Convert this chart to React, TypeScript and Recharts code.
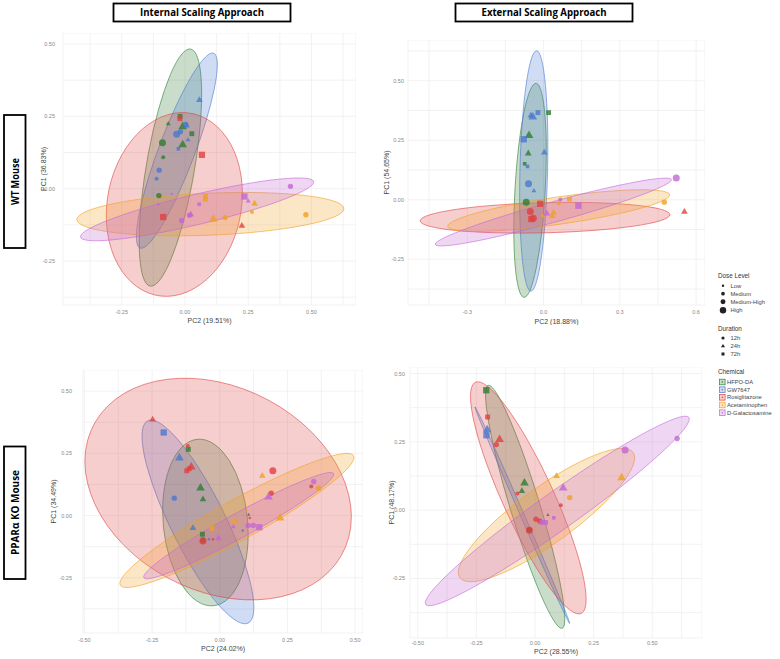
import React from "react";
import { ScatterChart, Scatter, XAxis, YAxis, CartesianGrid, ReferenceArea } from "recharts";

const chemicals = ["HFPO-DA", "GW7647", "Rosiglitazone", "Acetaminophen", "D-Galactosamine"];
const chemicalColors = ["#2e7d32", "#4a78d0", "#e04040", "#f0a020", "#c266d6"];
const durations = ["12h", "24h", "72h"];
const doseLevels = ["Low", "Medium", "Medium-High", "High"];
const doseRadius = [1.3, 2.0, 2.7, 3.5];

// points: [chemical, PC2, PC1, duration, dose]
const wtInternalPoints = [
  [1, 0.057, 0.307, 1, 2], [0, -0.019, 0.25, 2, 2], [2, -0.02, 0.242, 2, 2], [0, -0.066, 0.225, 1, 1],
  [0, -0.009, 0.216, 1, 3], [1, 0.006, 0.219, 1, 2], [1, 0.003, 0.222, 0, 2], [1, -0.033, 0.188, 0, 3],
  [1, -0.018, 0.197, 0, 2], [0, 0.027, 0.19, 2, 2], [0, -0.009, 0.153, 1, 3], [1, 0.012, 0.17, 1, 1],
  [1, -0.026, 0.138, 2, 1], [0, -0.089, 0.159, 0, 3], [2, 0.067, 0.117, 2, 3], [0, -0.086, 0.109, 0, 1],
  [1, -0.102, 0.064, 0, 2], [1, -0.112, 0.034, 0, 1], [4, 0.417, 0.008, 0, 2], [0, -0.103, -0.024, 0, 2],
  [4, -0.052, -0.018, 1, 0], [3, 0.081, -0.027, 2, 2], [3, 0.081, -0.037, 2, 2], [4, 0.235, -0.027, 2, 3],
  [4, 0.25, -0.042, 1, 1], [3, 0.275, -0.05, 1, 2], [4, 0.056, -0.054, 2, 1], [4, -0.106, -0.054, 0, 0],
  [3, 0.265, -0.081, 0, 1], [3, 0.478, -0.09, 0, 2], [2, -0.086, -0.098, 2, 3], [4, 0.023, -0.088, 1, 2],
  [4, 0.018, -0.092, 0, 2], [3, 0.112, -0.104, 1, 3], [3, 0.159, -0.1, 0, 2], [4, -0.013, -0.11, 0, 2],
  [2, 0.225, -0.127, 1, 2],
];
const wtExternalPoints = [
  [0, 0.02, 0.366, 2, 2], [1, -0.022, 0.366, 2, 2], [1, -0.042, 0.349, 1, 3], [1, -0.05, 0.355, 1, 2],
  [0, -0.057, 0.272, 1, 3], [1, -0.078, 0.254, 2, 3], [1, 0.003, 0.2, 1, 2], [0, -0.06, 0.196, 1, 2],
  [0, -0.074, 0.151, 2, 1], [1, -0.063, 0.14, 2, 1], [1, -0.059, 0.067, 0, 3], [1, -0.038, 0.039, 1, 1],
  [4, 0.522, 0.091, 0, 3], [3, 0.475, -0.01, 0, 2], [2, 0.554, -0.049, 1, 2], [0, -0.068, -0.01, 0, 3],
  [2, -0.013, -0.017, 2, 3], [3, 0.102, 0.003, 2, 2], [4, 0.066, 0.001, 0, 1], [3, 0.06, -0.014, 2, 1],
  [4, 0.137, -0.025, 2, 3], [2, -0.052, -0.049, 0, 3], [2, -0.048, -0.081, 2, 3], [2, -0.04, -0.078, 0, 3],
  [4, 0.013, -0.056, 1, 2], [3, 0.04, -0.052, 1, 2], [3, 0.035, -0.067, 1, 2], [3, -0.003, -0.067, 0, 1],
];
const koInternalPoints = [
  [2, -0.248, 0.387, 1, 2], [1, -0.207, 0.334, 2, 3], [2, -0.118, 0.28, 0, 1], [0, -0.116, 0.266, 2, 2],
  [1, -0.149, 0.233, 1, 3], [2, -0.105, 0.197, 1, 3], [2, -0.122, 0.18, 2, 2], [2, -0.113, 0.188, 2, 2],
  [0, -0.071, 0.113, 1, 3], [0, -0.062, 0.067, 1, 2], [1, -0.168, 0.07, 0, 2], [3, 0.157, 0.161, 1, 2],
  [2, 0.196, 0.18, 0, 3], [2, 0.19, 0.09, 0, 2], [4, 0.18, 0.076, 1, 3], [4, 0.347, 0.137, 0, 2],
  [2, 0.338, 0.117, 0, 1], [3, 0.365, 0.11, 0, 2], [3, 0.223, -0.008, 1, 3], [3, 0.099, 0.02, 0, 0],
  [0, 0.107, 0.004, 1, 0], [2, 0.111, -0.01, 0, 0], [3, 0.056, -0.024, 0, 2], [4, 0.105, -0.04, 0, 2],
  [4, 0.124, -0.04, 0, 2], [4, 0.146, -0.047, 2, 3], [4, 0.05, -0.044, 1, 1], [3, -0.029, -0.051, 2, 2],
  [1, -0.099, -0.049, 1, 2], [0, -0.064, -0.075, 2, 2], [4, -0.005, -0.09, 1, 2], [0, -0.062, -0.098, 0, 2],
  [2, -0.062, -0.102, 0, 3], [1, -0.04, -0.095, 0, 0], [2, -0.025, -0.095, 0, 0], [1, 0.085, -0.06, 0, 0],
];
const koExternalPoints = [
  [0, -0.208, 0.439, 2, 3], [2, -0.202, 0.341, 2, 2], [1, -0.204, 0.296, 1, 3], [1, -0.207, 0.274, 2, 3],
  [2, -0.151, 0.26, 1, 3], [2, -0.165, 0.24, 0, 2], [4, 0.606, 0.262, 0, 2], [4, 0.384, 0.22, 0, 3],
  [3, 0.369, 0.12, 1, 3], [3, 0.092, 0.126, 1, 2], [4, 0.12, 0.083, 1, 3], [3, 0.148, 0.046, 0, 2],
  [0, -0.045, 0.101, 1, 3], [0, -0.056, 0.071, 1, 2], [2, -0.075, 0.061, 0, 1], [2, 0.11, 0.018, 0, 1],
  [0, 0.055, -0.017, 1, 0], [2, 0.004, -0.033, 0, 2], [2, 0.02, -0.04, 0, 2], [4, 0.03, -0.045, 2, 2],
  [4, 0.045, -0.045, 2, 2], [4, 0.08, -0.028, 2, 1], [0, -0.024, -0.072, 0, 2], [2, -0.024, -0.074, 0, 3],
];

// ellipses: [chemical, PC2 min, PC2 max, PC1 min, PC1 max, tilt]
const wtInternalEllipses = [
  [0, -0.181, 0.066, -0.337, 0.483, 0.62],
  [1, -0.192, 0.128, -0.206, 0.469, 0.88],
  [2, -0.311, 0.227, -0.372, 0.263, 0.12],
  [3, -0.427, 0.628, -0.163, -0.013, 0.25],
  [4, -0.413, 0.509, -0.18, 0.037, 0.87],
];
const wtExternalEllipses = [
  [0, -0.117, 0.011, -0.41, 0.489, 0.36],
  [1, -0.094, 0.017, -0.384, 0.626, 0.2],
  [2, -0.485, 0.497, -0.14, -0.011, 0.2],
  [3, -0.377, 0.496, -0.133, 0.042, 0.75],
  [4, -0.426, 0.503, -0.194, 0.091, 0.95],
];
const koInternalEllipses = [
  [0, -0.211, 0.105, -0.363, 0.307, -0.14],
  [1, -0.287, 0.126, -0.435, 0.384, -0.84],
  [2, -0.498, 0.486, -0.339, 0.552, -0.25],
  [3, -0.369, 0.496, -0.289, 0.25, 0.94],
  [4, -0.281, 0.421, -0.254, 0.173, 0.965],
];
const koExternalEllipses = [
  [0, -0.211, 0.127, -0.433, 0.457, -0.92],
  [1, -0.256, 0.148, -0.415, 0.378, -0.999],
  [2, -0.275, 0.218, -0.38, 0.47, -0.874],
  [3, -0.327, 0.425, -0.262, 0.226, 0.86],
  [4, -0.468, 0.658, -0.35, 0.344, 0.97],
];

const quarterTicks = [-0.5, -0.25, 0, 0.25, 0.5];
const quarterMinor = [-0.375, -0.125, 0.125, 0.375, 0.625];
const tenthTicks = [-0.3, 0, 0.3, 0.6];
const tenthMinor = [-0.45, -0.15, 0.15, 0.45];

const font = "'Liberation Sans', Arial, sans-serif";

function Marker({ cx, cy, payload, color }: any) {
  if (cx == null || cy == null) return null;
  const r = doseRadius[payload.dose];
  const common = { fill: color, fillOpacity: 0.8 };
  if (payload.dur === 0) return <circle cx={cx} cy={cy} r={r} {...common} />;
  if (payload.dur === 1) {
    const h = r * 1.3;
    return (
      <polygon
        points={`${cx},${cy - h} ${cx + h * 0.95},${cy + h * 0.65} ${cx - h * 0.95},${cy + h * 0.65}`}
        {...common}
      />
    );
  }
  const s = r * 0.9;
  return <rect x={cx - s} y={cy - s} width={2 * s} height={2 * s} {...common} />;
}

function ellipseShape(color: string, tilt: number) {
  return (p: any) => {
    const { x, y, width, height } = p;
    const a = width / 2;
    const b = height / 2;
    const s = Math.sqrt(Math.max(1 - tilt * tilt, 0.0004));
    return (
      <circle
        r={1}
        transform={`matrix(${a} ${-b * tilt} 0 ${-b * s} ${x + a} ${y + b})`}
        fill={color}
        fillOpacity={0.26}
        stroke={color}
        strokeOpacity={0.75}
        strokeWidth={0.8}
        vectorEffect="non-scaling-stroke"
      />
    );
  };
}

function Panel({ pos, points, ellipses, xDomain, yDomain, xMajor, xMinor, yMajor, yMinor, xDigits, xTitle, yTitle }: any) {
  const isMajor = (list: number[]) => (v: number) => list.some((m) => Math.abs(m - v) < 1e-9);
  const xt = [...xMajor, ...xMinor].filter((v) => v >= xDomain[0] && v <= xDomain[1]).sort((a, b) => a - b);
  const yt = [...yMajor, ...yMinor].filter((v) => v >= yDomain[0] && v <= yDomain[1]).sort((a, b) => a - b);
  const tickStyle = { fontSize: 5.5, fill: "#888", fontFamily: font };
  return (
    <div style={{ position: "absolute", left: pos.left, top: pos.top }}>
      <ScatterChart width={pos.yw + pos.pw} height={pos.ph + pos.xh} margin={{ top: 0, right: 0, bottom: 0, left: 0 }}>
        <CartesianGrid stroke="#ececec" strokeWidth={0.7} />
        <XAxis
          type="number"
          dataKey="x"
          domain={xDomain}
          allowDataOverflow
          ticks={xt}
          interval={0}
          axisLine={false}
          tickLine={false}
          tickSize={pos.xTick}
          height={pos.xh}
          tick={tickStyle}
          tickFormatter={(v: number) => (isMajor(xMajor)(v) ? v.toFixed(xDigits) : "")}
          label={{ value: xTitle, position: "insideBottom", offset: pos.xOff, fontSize: 7, fill: "#444", fontFamily: font }}
        />
        <YAxis
          type="number"
          dataKey="y"
          domain={yDomain}
          allowDataOverflow
          ticks={yt}
          interval={0}
          axisLine={false}
          tickLine={false}
          tickSize={pos.yTick}
          width={pos.yw}
          tick={tickStyle}
          tickFormatter={(v: number) => (isMajor(yMajor)(v) ? v.toFixed(2) : "")}
          label={{
            value: yTitle,
            angle: -90,
            position: "insideLeft",
            offset: pos.yOff,
            style: { textAnchor: "middle" },
            fontSize: 7,
            fill: "#444",
            fontFamily: font,
          }}
        />
        {ellipses.map((e: number[], i: number) => (
          <ReferenceArea
            key={`e${i}`}
            x1={e[1]}
            x2={e[2]}
            y1={e[3]}
            y2={e[4]}
            ifOverflow="visible"
            shape={ellipseShape(chemicalColors[e[0]], e[5])}
          />
        ))}
        {chemicals.map((c, ci) => (
          <Scatter
            key={c}
            name={c}
            data={points
              .filter((p: number[]) => p[0] === ci)
              .map((p: number[]) => ({ x: p[1], y: p[2], dur: p[3], dose: p[4] }))}
            isAnimationActive={false}
            shape={(props: any) => <Marker {...props} color={chemicalColors[ci]} />}
          />
        ))}
      </ScatterChart>
    </div>
  );
}

function Overlay() {
  const legendX = 718;
  const doseY = [285.7, 293.7, 301.7, 310.3];
  const durY = [338, 346, 354];
  const chemY = [382, 389.7, 397.3, 405, 412.7];
  const tri = (cx: number, cy: number, h: number) =>
    `${cx},${cy - h} ${cx + h * 0.95},${cy + h * 0.65} ${cx - h * 0.95},${cy + h * 0.65}`;
  return (
    <svg width={780} height={659} style={{ position: "absolute", left: 0, top: 0 }}>
      <rect x={113.5} y={3.5} width={177} height={18} fill="#fff" stroke="#000" strokeWidth={1.8} />
      <text x={202} y={16.3} textAnchor="middle" fontFamily="'Open Sans', sans-serif" fontWeight={700} fontSize={10.5} textLength={124} lengthAdjust="spacingAndGlyphs">
        Internal Scaling Approach
      </text>
      <rect x={455.5} y={3.5} width={177} height={18} fill="#fff" stroke="#000" strokeWidth={1.8} />
      <text x={544} y={16.3} textAnchor="middle" fontFamily="'Open Sans', sans-serif" fontWeight={700} fontSize={10.5} textLength={125} lengthAdjust="spacingAndGlyphs">
        External Scaling Approach
      </text>
      <rect x={4} y={115} width={21.5} height={133} fill="#fff" stroke="#000" strokeWidth={1.8} />
      <text x={18.5} y={181.5} textAnchor="middle" transform="rotate(-90 18.5 181.5)" fontFamily="'Open Sans', sans-serif" fontWeight={700} fontSize={10.5} textLength={47} lengthAdjust="spacingAndGlyphs">
        WT  Mouse
      </text>
      <rect x={4} y={446.5} width={21.5} height={132.5} fill="#fff" stroke="#000" strokeWidth={1.8} />
      <text x={18.5} y={512.5} textAnchor="middle" transform="rotate(-90 18.5 512.5)" fontFamily="'Open Sans', sans-serif" fontWeight={700} fontSize={10.5} textLength={85} lengthAdjust="spacingAndGlyphs">
        PPARα KO Mouse
      </text>

      <g fontFamily={font}>
        <text x={legendX} y={278.3} fontSize={6.3} fill="#333">Dose Level</text>
        {doseLevels.map((d, i) => (
          <g key={d}>
            <circle cx={723} cy={doseY[i]} r={doseRadius[i] * 0.92} fill="#222" />
            <text x={730.5} y={doseY[i] + 2} fontSize={5.8} fill="#444">{d}</text>
          </g>
        ))}
        <text x={legendX} y={330.5} fontSize={6.3} fill="#333">Duration</text>
        {durations.map((d, i) => (
          <g key={d}>
            {i === 0 && <circle cx={723} cy={durY[i]} r={1.6} fill="#222" />}
            {i === 1 && <polygon points={tri(723, durY[i], 2.1)} fill="#222" />}
            {i === 2 && <rect x={721.5} y={durY[i] - 1.5} width={3} height={3} fill="#222" />}
            <text x={730.5} y={durY[i] + 2} fontSize={5.8} fill="#444">{d}</text>
          </g>
        ))}
        <text x={legendX} y={374} fontSize={6.3} fill="#333">Chemical</text>
        {chemicals.map((c, i) => (
          <g key={c}>
            <rect x={719.5} y={chemY[i] - 2.8} width={5.6} height={5.6} fill={chemicalColors[i]} fillOpacity={0.25} stroke={chemicalColors[i]} strokeWidth={0.7} />
            <circle cx={722.3} cy={chemY[i]} r={0.8} fill={chemicalColors[i]} />
            <text x={727} y={chemY[i] + 2} fontSize={5.8} fill="#444">{c}</text>
          </g>
        ))}
      </g>
    </svg>
  );
}

export default function App() {
  return (
    <div style={{ position: "absolute", left: 0, top: 0, width: 780, height: 659, background: "#fff", overflow: "hidden" }}>
      <Overlay />
      <Panel
        pos={{ left: 0, top: 33, yw: 63, pw: 293, ph: 272, xh: 20, xTick: 3, yTick: 6, xOff: 2.5, yOff: 44 }}
        points={wtInternalPoints}
        ellipses={wtInternalEllipses}
        xDomain={[-0.482, 0.676]}
        yDomain={[-0.402, 0.538]}
        xMajor={quarterTicks}
        xMinor={quarterMinor}
        yMajor={quarterTicks}
        yMinor={quarterMinor}
        xDigits={2}
        xTitle="PC2 (19.51%)"
        yTitle="PC1 (36.83%)"
      />
      <Panel
        pos={{ left: 380, top: 40, yw: 28, pw: 297, ph: 265, xh: 20, xTick: 3, yTick: 2, xOff: 1.5, yOff: 7 }}
        points={wtExternalPoints}
        ellipses={wtExternalEllipses}
        xDomain={[-0.533, 0.635]}
        yDomain={[-0.442, 0.671]}
        xMajor={tenthTicks}
        xMinor={tenthMinor}
        yMajor={quarterTicks}
        yMinor={quarterMinor}
        xDigits={1}
        xTitle="PC2 (18.88%)"
        yTitle="PC1 (54.65%)"
      />
      <Panel
        pos={{ left: 30, top: 370, yw: 53, pw: 280, ph: 263, xh: 20, xTick: 3, yTick: 9, xOff: 2, yOff: 23.3 }}
        points={koInternalPoints}
        ellipses={koInternalEllipses}
        xDomain={[-0.505, 0.529]}
        yDomain={[-0.472, 0.585]}
        xMajor={quarterTicks}
        xMinor={quarterMinor}
        yMajor={quarterTicks}
        yMinor={quarterMinor}
        xDigits={2}
        xTitle="PC2 (24.02%)"
        yTitle="PC1 (34.49%)"
      />
      <Panel
        pos={{ left: 385, top: 367, yw: 25, pw: 292, ph: 271, xh: 20, xTick: 1.5, yTick: 3, xOff: 3.8, yOff: 6.7 }}
        points={koExternalPoints}
        ellipses={koExternalEllipses}
        xDomain={[-0.533, 0.712]}
        yDomain={[-0.468, 0.524]}
        xMajor={quarterTicks}
        xMinor={quarterMinor}
        yMajor={quarterTicks}
        yMinor={quarterMinor}
        xDigits={2}
        xTitle="PC2 (28.55%)"
        yTitle="PC1 (48.17%)"
      />
    </div>
  );
}
